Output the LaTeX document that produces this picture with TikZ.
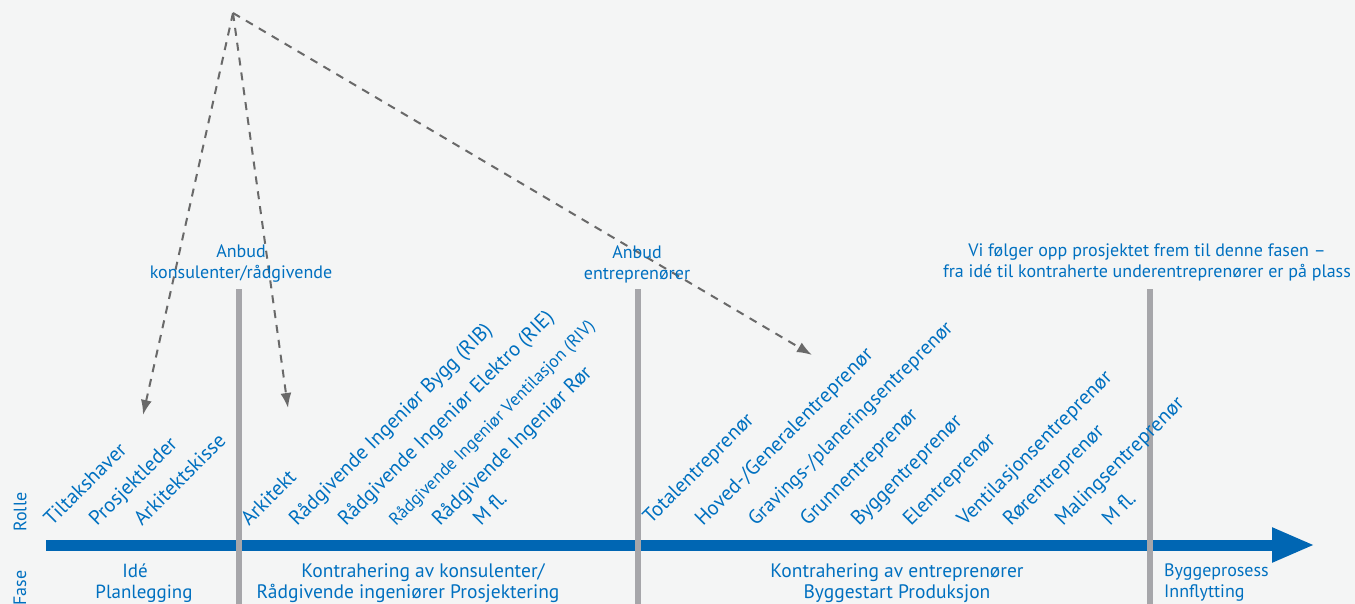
\documentclass[tikz,border=0pt]{standalone}
\usepackage{fontspec}
\setmainfont{PT Sans}
\usepackage{xcolor}
\usepackage{tikz}
\usetikzlibrary{arrows.meta}
\definecolor{fase-blue0}{RGB}{0, 102, 179}
\definecolor{fase-blue1}{RGB}{0, 112, 192}
\definecolor{fase-gray1}{RGB}{166, 166, 170}
\definecolor{fase-gray2}{RGB}{105, 105, 105}
\definecolor{fase-gray3}{RGB}{244, 245, 245}

\begin{document}
\begin{tikzpicture}[x = 1pt, y = -1pt, font = \fontsize{18}{21}\selectfont,
    rolle/.style = {rotate = 45, anchor = base west, inner sep = 0pt, text = fase-blue1, font = \fontsize{20.5}{24}\selectfont},
    tekst/.style = {align = center, inner sep = 0pt, text = fase-blue1},
    fasetekst/.style = {tekst, font = \fontsize{19.5}{21}\selectfont},
    tips/.style = {fase-gray2, line width = 2pt, dash pattern = on 8pt off 7pt, -{Latex[length = 15pt, width = 11pt]}},
    skille/.style = {fase-gray1, line width = 6pt}]
          \fill[fase-gray3] (0, 0) rectangle (1355, 604);
          \useasboundingbox (0, 0) rectangle (1355, 604);

          \coordinate (top) at (233, 13);
          \coordinate (p-ide) at (143, 415);
          \coordinate (p-kons) at (288, 408);
          \coordinate (p-entr) at (812, 355);
          \coordinate (akse-start) at (46, 545);
          \coordinate (akse-slutt) at (1315, 545);
          \coordinate (b1) at (239, 289);
          \coordinate (b1-end) at (239, 604);
          \coordinate (b2) at (638, 289);
          \coordinate (b2-end) at (638, 604);
          \coordinate (b3) at (1150, 289);
          \coordinate (b3-end) at (1150, 604);

          % tidsakse
          \draw[fase-blue0, line width = 11pt, -{Triangle[length = 43pt, width = 32pt]}] (akse-start) -- (akse-slutt);
          \draw[skille] (b1) -- (b1-end);
          \draw[skille] (b2) -- (b2-end);
          \draw[skille] (b3) -- (b3-end);

          \draw[tips] (top) -- (p-ide);
          \draw[tips] (top) -- (p-kons);
          \draw[tips] (top) -- (p-entr);

          \node[tekst] (anbud-kons) at (241, 264) {Anbud\\konsulenter/rådgivende};
          \node[tekst] (anbud-entr) at (637, 264) {Anbud\\entreprenører};
          \node[tekst] (oppfolging) at (1147, 262) {Vi følger opp prosjektet frem til denne fasen –\\fra idé til kontraherte underentreprenører er på plass};

          \node[tekst, rotate = 90] (rolle) at (20, 512) {Rolle};
          \node[tekst, rotate = 90] (fase) at (20, 588) {Fase};

          % roller
          \node[rolle] (tiltakshaver) at (52, 527) {Tiltakshaver};
          \node[rolle] (prosjektleder) at (97, 527) {Prosjektleder};
          \node[rolle] (skisse) at (142, 527) {Arkitektskisse};
          \node[rolle] (arkitekt) at (249, 527) {Arkitekt};
          \node[rolle] (rib) at (297, 527) {Rådgivende Ingeniør Bygg (RIB)};
          \node[rolle] (rie) at (346, 527) {Rådgivende Ingeniør Elektro (RIE)};
          \node[rolle, font = \fontsize{17.5}{20}\selectfont] (riv) at (396, 527) {Rådgivende Ingeniør Ventilasjon (RIV)};
          \node[rolle] (rir) at (440, 527) {Rådgivende Ingeniør Rør};
          \node[rolle] (mfl-kons) at (481, 527) {M fl.};
          \node[rolle] (total) at (651, 525) {Totalentreprenør};
          \node[rolle] (hoved) at (703, 527) {Hoved-/Generalentreprenør};
          \node[rolle, font = \fontsize{20}{24}\selectfont] (gravings) at (756, 527) {Gravings-/planeringsentreprenør};
          \node[rolle] (grunn) at (808, 527) {Grunnentreprenør};
          \node[rolle] (bygg) at (859, 527) {Byggentreprenør};
          \node[rolle] (el) at (911, 527) {Elentreprenør};
          \node[rolle] (ventilasjon) at (965, 527) {Ventilasjonsentreprenør};
          \node[rolle] (ror) at (1011, 527) {Rørentreprenør};
          \node[rolle] (maling) at (1063, 527) {Malingsentreprenør};
          \node[rolle] (mfl-entr) at (1110, 527) {M fl.};

          % faser
          \node[tekst, font = \fontsize{19}{21}\selectfont] (ide) at (144, 583) {Idé\hspace*{18pt}\\Planlegging};
          \node[fasetekst] (kontr-kons) at (408, 583) {\hspace*{30pt}Kontrahering av konsulenter/\\Rådgivende ingeniører Prosjektering};
          \node[fasetekst] (kontr-entr) at (897, 583) {Kontrahering av entreprenører\\Byggestart Produksjon};
          \node[tekst, align = left, anchor = west] (bygge) at (1164, 583) {Byggeprosess\\Innflytting};
        \end{tikzpicture}
\end{document}
